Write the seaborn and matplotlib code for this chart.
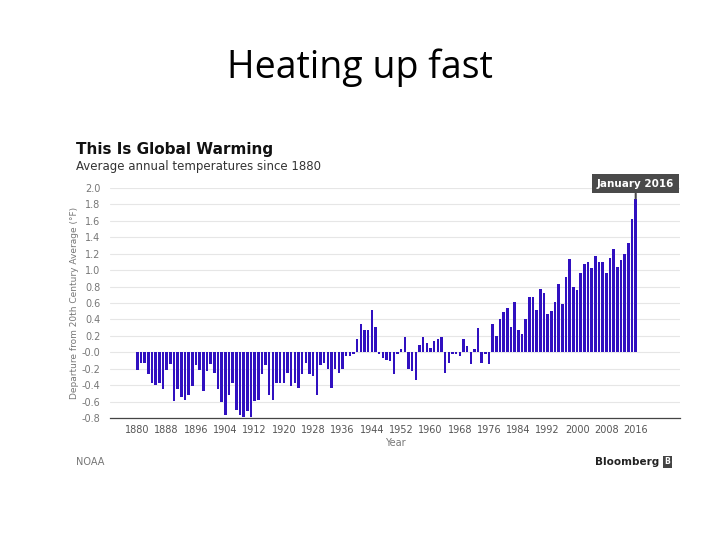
import numpy as np
import pandas as pd
import matplotlib
matplotlib.use("Agg")
import matplotlib.pyplot as plt
import seaborn as sns

# Global temperature departure from 20th century average (°F), NOAA
years = list(range(1880, 2017))
anomaly_f = [
    -0.22, -0.13, -0.13, -0.27, -0.38, -0.40, -0.38, -0.45, -0.22, -0.14,  # 1880s
    -0.59, -0.45, -0.54, -0.58, -0.52, -0.41, -0.16, -0.22, -0.47, -0.23,  # 1890s
    -0.14, -0.25, -0.45, -0.61, -0.77, -0.52, -0.38, -0.70, -0.77, -0.79,  # 1900s
    -0.72, -0.79, -0.59, -0.58, -0.27, -0.16, -0.52, -0.58, -0.38, -0.38,  # 1910s
    -0.38, -0.25, -0.41, -0.38, -0.43, -0.27, -0.13, -0.27, -0.29, -0.52,  # 1920s
    -0.16, -0.13, -0.20, -0.43, -0.20, -0.25, -0.20, -0.04, -0.04, -0.02,  # 1930s
    0.16, 0.34, 0.27, 0.27, 0.52, 0.31, -0.02, -0.07, -0.09, -0.11,        # 1940s
    -0.27, -0.02, 0.04, 0.18, -0.20, -0.23, -0.34, 0.09, 0.18, 0.11,       # 1950s
    0.05, 0.14, 0.16, 0.18, -0.25, -0.13, -0.02, -0.02, -0.05, 0.16,       # 1960s
    0.07, -0.14, 0.04, 0.29, -0.13, -0.02, -0.14, 0.34, 0.20, 0.41,        # 1970s
    0.49, 0.54, 0.31, 0.61, 0.27, 0.22, 0.41, 0.67, 0.67, 0.52,            # 1980s
    0.77, 0.72, 0.47, 0.50, 0.61, 0.83, 0.59, 0.92, 1.13, 0.79,            # 1990s
    0.76, 0.97, 1.08, 1.10, 1.03, 1.17, 1.10, 1.10, 0.97, 1.15,            # 2000s
    1.26, 1.04, 1.12, 1.19, 1.33, 1.62, 1.87,                              # 2010s (2016 = January)
]
x_ticks = list(range(1880, 2017, 8))
y_ticks = [round(v, 1) for v in np.arange(-0.8, 2.01, 0.2)]

df = pd.DataFrame({"Year": years, "Anomaly": anomaly_f})

sns.set_style("white")
plt.rcParams["font.family"] = ["DejaVu Sans"]

fig = plt.figure(figsize=(7.2, 5.4), dpi=100)
ax = fig.add_axes([0.153, 0.226, 0.791, 0.426])

sns.barplot(data=df, x="Year", y="Anomaly", native_scale=True, width=0.7,
            color="#3010c0", saturation=1, edgecolor="none", ax=ax)

ax.set_xlim(1872.6, 2028)
ax.set_ylim(-0.8, 2.0)
ax.set_yticks(y_ticks)
ax.set_yticklabels([f"{v:.1f}" for v in y_ticks], fontsize=7, color="#777777")
ax.set_xticks(x_ticks)
ax.set_xticklabels([str(t) for t in x_ticks], fontsize=7, color="#555555")
ax.tick_params(axis="y", length=0, pad=7)
ax.tick_params(axis="x", length=3, width=0.6, color="#999999", pad=2, direction="out")
ax.grid(axis="y", color="#e6e6e6", linewidth=0.8)
ax.set_axisbelow(True)
for s in ["top", "right", "left"]:
    ax.spines[s].set_visible(False)
ax.spines["bottom"].set_color("#444444")
ax.spines["bottom"].set_linewidth(0.9)

ax.set_xlabel("Year", fontsize=7, color="#777777", labelpad=2)
ax.set_ylabel("Departure from 20th Century Average (°F)", fontsize=6.5,
              color="#777777", labelpad=2)

# annotation box for latest value
ax.annotate("January 2016", xy=(2016, anomaly_f[-1]), xytext=(2016, 2.05),
            textcoords="data", ha="center", va="center", fontsize=7.5,
            color="white", fontweight="bold",
            bbox=dict(boxstyle="square,pad=0.45", fc="#4a4a4a", ec="none"),
            arrowprops=dict(arrowstyle="-", lw=1.5, color="#4a4a4a",
                            shrinkA=0, shrinkB=0),
            annotation_clip=False)

fig.text(0.5, 0.875, "Heating up fast", ha="center", va="center",
         fontsize=27, color="black", family=["Open Sans", "DejaVu Sans"])
fig.text(0.105, 0.724, "This Is Global Warming", ha="left", va="center",
         fontsize=11, fontweight="bold", color="#111111")
fig.text(0.105, 0.692, "Average annual temperatures since 1880", ha="left",
         va="center", fontsize=8.5, color="#333333")
fig.text(0.105, 0.145, "NOAA", ha="left", va="center", fontsize=7, color="#777777")
fig.text(0.915, 0.145, "Bloomberg", ha="right", va="center", fontsize=7.5,
         fontweight="bold", color="#222222")
fig.text(0.927, 0.145, "B", ha="center", va="center", fontsize=5.5, color="white",
         fontweight="bold",
         bbox=dict(boxstyle="square,pad=0.2", fc="#444444", ec="none"))

fig.savefig("out.png", dpi=100)
